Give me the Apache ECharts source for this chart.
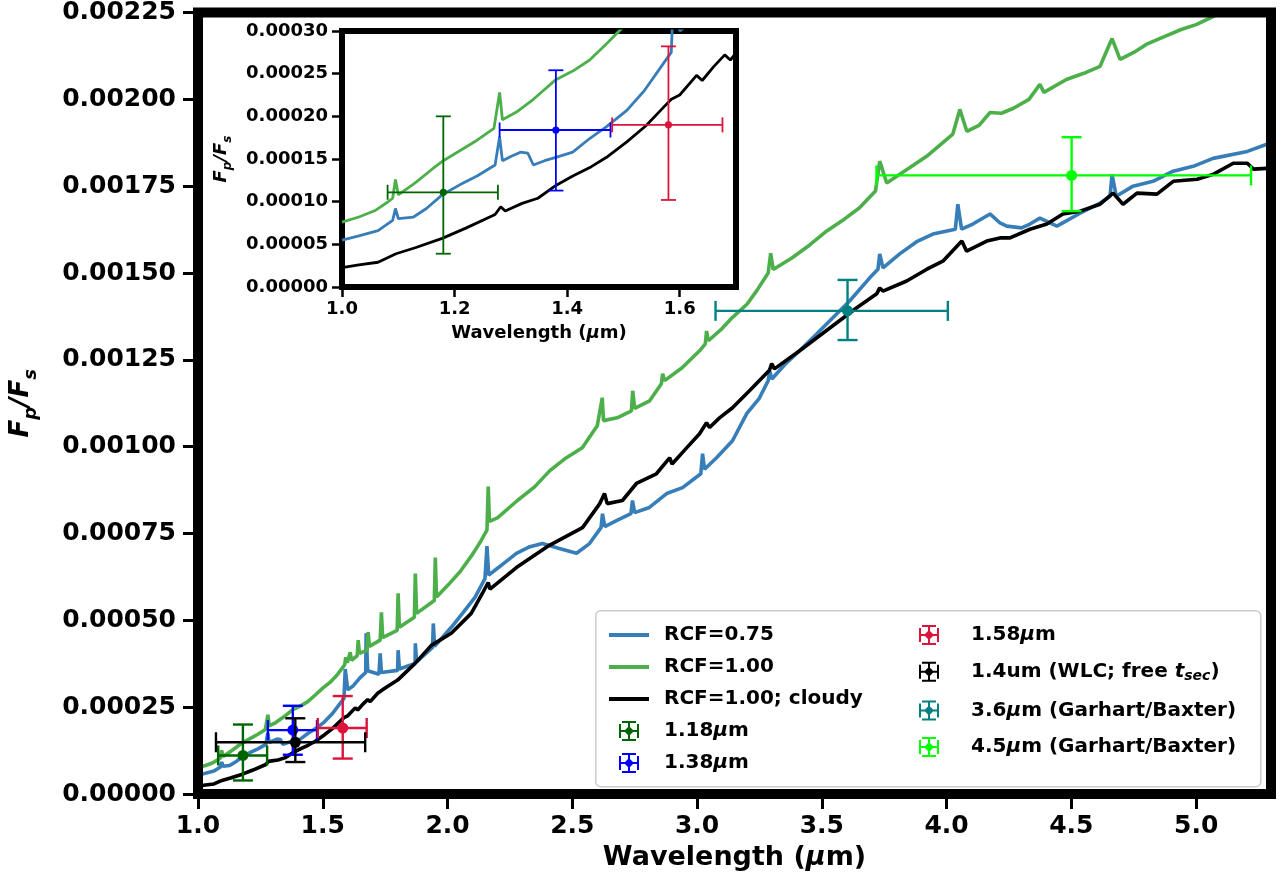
<!DOCTYPE html>
<html><head><meta charset="utf-8">
<script src="https://cdn.jsdelivr.net/npm/echarts@6/dist/echarts.min.js"></script>
<style>html,body{margin:0;padding:0;background:#fff}#c{width:1281px;height:882px}</style>
</head><body><div id="c"></div>
<script>
// ---------------- DATA ----------------
const rcf075X = [1.00,1.03,1.064,1.09,1.095,1.10,1.127,1.15,1.178,1.21,1.24,1.272,1.28,1.285,1.30,1.317,1.33,1.34,1.36,1.38,1.41,1.44,1.47,1.506,1.537,1.569,1.585,1.59,1.60,1.62,1.65,1.672,1.674,1.68,1.725,1.73,1.735,1.80,1.802,1.807,1.87,1.871,1.876,1.94,1.943,1.948,2.015,2.06,2.11,2.15,2.158,2.165,2.204,2.276,2.33,2.38,2.448,2.517,2.569,2.615,2.621,2.63,2.677,2.735,2.741,2.75,2.809,2.878,2.942,3.015,3.022,3.03,3.078,3.142,3.199,3.25,3.285,3.291,3.30,3.35,3.411,3.48,3.544,3.612,3.692,3.725,3.732,3.745,3.812,3.88,3.945,4.035,4.045,4.06,4.105,4.174,4.214,4.241,4.30,4.334,4.374,4.442,4.535,4.615,4.655,4.663,4.68,4.747,4.827,4.908,4.988,5.068,5.205,5.30];
const rcf075Y = [0.000055,0.000060,0.000066,0.000078,0.000092,0.000080,0.000082,0.000092,0.000108,0.000120,0.000130,0.000143,0.000176,0.000148,0.000153,0.000158,0.000157,0.000143,0.000148,0.000152,0.000158,0.000174,0.000188,0.000207,0.000230,0.000260,0.000275,0.000360,0.000300,0.000310,0.000335,0.000350,0.000463,0.000355,0.000345,0.000405,0.000350,0.000356,0.000414,0.000360,0.000376,0.000434,0.000380,0.000422,0.000491,0.000425,0.000480,0.000520,0.000566,0.000620,0.000714,0.000630,0.000652,0.000693,0.000712,0.000721,0.000707,0.000693,0.000721,0.000767,0.000807,0.000770,0.000787,0.000807,0.000845,0.000810,0.000825,0.000865,0.000882,0.000922,0.000980,0.000935,0.000968,0.001017,0.001095,0.001140,0.001190,0.001218,0.001195,0.001235,0.001276,0.001325,0.001371,0.001420,0.001486,0.001511,0.001555,0.001515,0.001555,0.001590,0.001612,0.001626,0.001698,0.001626,0.001641,0.001670,0.001644,0.001635,0.001630,0.001641,0.001658,0.001635,0.001672,0.001701,0.001721,0.001784,0.001721,0.001750,0.001764,0.001793,0.001807,0.001830,0.001850,0.001875];

const rcf100X = [1.00,1.03,1.06,1.08,1.09,1.095,1.10,1.13,1.16,1.18,1.21,1.24,1.27,1.28,1.285,1.31,1.34,1.38,1.41,1.44,1.47,1.50,1.53,1.56,1.588,1.592,1.598,1.61,1.615,1.638,1.642,1.647,1.678,1.682,1.687,1.73,1.735,1.74,1.798,1.802,1.807,1.867,1.871,1.876,1.947,1.951,1.956,2.00,2.05,2.10,2.135,2.158,2.163,2.168,2.20,2.28,2.35,2.41,2.47,2.54,2.60,2.62,2.625,2.68,2.737,2.742,2.75,2.81,2.857,2.862,2.87,2.94,3.01,3.033,3.038,3.045,3.10,3.14,3.20,3.24,3.285,3.295,3.305,3.38,3.45,3.52,3.59,3.65,3.715,3.732,3.76,3.85,3.92,4.025,4.053,4.081,4.13,4.174,4.22,4.27,4.33,4.374,4.39,4.48,4.55,4.615,4.663,4.695,4.75,4.80,4.87,4.94,5.00,5.07,5.15,5.30];
const rcf100Y = [0.000076,0.000082,0.000090,0.000099,0.000104,0.000126,0.000108,0.000122,0.000138,0.000148,0.000160,0.000172,0.000186,0.000228,0.000196,0.000205,0.000220,0.000243,0.000253,0.000266,0.000285,0.000305,0.000322,0.000345,0.000372,0.000394,0.000378,0.000408,0.000385,0.000398,0.000443,0.000405,0.000414,0.000466,0.000425,0.000443,0.000523,0.000450,0.000471,0.000578,0.000480,0.000509,0.000635,0.000520,0.000557,0.000681,0.000567,0.000600,0.000640,0.000690,0.000730,0.000760,0.000885,0.000785,0.000795,0.000845,0.000885,0.000931,0.000965,0.000997,0.001060,0.001141,0.001075,0.001083,0.001103,0.001161,0.001110,0.001132,0.001181,0.001210,0.001190,0.001227,0.001276,0.001296,0.001333,0.001305,0.001340,0.001371,0.001410,0.001450,0.001500,0.001557,0.001510,0.001543,0.001580,0.001621,0.001655,0.001687,0.001736,0.001822,0.001759,0.001802,0.001836,0.001900,0.001971,0.001908,0.001925,0.001962,0.001960,0.001975,0.002000,0.002043,0.002020,0.002057,0.002075,0.002095,0.002175,0.002115,0.002135,0.002158,0.002180,0.002201,0.002215,0.002239,0.002262,0.002310];

const cloudyX = [1.00,1.03,1.064,1.096,1.13,1.178,1.22,1.272,1.282,1.29,1.32,1.348,1.38,1.41,1.443,1.47,1.506,1.54,1.569,1.585,1.60,1.63,1.64,1.66,1.68,1.69,1.72,1.75,1.80,1.87,1.935,2.015,2.095,2.14,2.163,2.17,2.276,2.408,2.541,2.61,2.629,2.64,2.701,2.757,2.837,2.89,2.90,2.95,3.01,3.038,3.05,3.09,3.142,3.21,3.29,3.299,3.31,3.411,3.544,3.64,3.72,3.732,3.745,3.84,3.921,3.985,4.061,4.08,4.161,4.214,4.254,4.334,4.402,4.466,4.535,4.615,4.667,4.707,4.763,4.843,4.908,5.004,5.068,5.149,5.205,5.23,5.30];
const cloudyY = [0.0000227,0.000026,0.000029,0.000039,0.000046,0.000057,0.000069,0.000085,0.000094,0.000089,0.000098,0.000104,0.000119,0.000130,0.000141,0.000152,0.000170,0.000189,0.000209,0.000220,0.000225,0.000248,0.000242,0.000258,0.000272,0.000266,0.000290,0.000305,0.000328,0.000376,0.000428,0.000463,0.000520,0.000578,0.000609,0.000590,0.000652,0.000716,0.000767,0.000836,0.000865,0.000836,0.000845,0.000894,0.000922,0.000968,0.000950,0.000990,0.001037,0.001069,0.001055,0.001083,0.001112,0.001161,0.001220,0.001239,0.001224,0.001276,0.001348,0.001400,0.001440,0.001457,0.001448,0.001477,0.001511,0.001534,0.001592,0.001563,0.001592,0.001601,0.001601,0.001626,0.001641,0.001670,0.001678,0.001698,0.001730,0.001698,0.001730,0.001727,0.001764,0.001770,0.001784,0.001816,0.001816,0.001799,0.001802];

const curveNames = ['RCF=0.75','RCF=1.00','RCF=1.00; cloudy'];
const pointNames = ['1.18μm','1.38μm','1.58μm','1.4um (WLC; free tsec)','3.6μm (Garhart/Baxter)','4.5μm (Garhart/Baxter)'];
const pointX   = [1.18, 1.38, 1.58, 1.39, 3.603, 4.501];
const pointY   = [0.000111, 0.000184, 0.000190, 0.000149, 0.001391, 0.001781];
const pointXLo = [1.081, 1.28, 1.48, 1.072, 3.074, 3.719];
const pointXHi = [1.277, 1.477, 1.676, 1.67, 4.005, 5.22];
const pointYLo = [0.000039, 0.000113, 0.000102, 0.000092, 0.001307, 0.001678];
const pointYHi = [0.000200, 0.000254, 0.000282, 0.000218, 0.001480, 0.001891];
const pointInInset = [true, true, true, false, false, false];

const mainXTicks = [1.0,1.5,2.0,2.5,3.0,3.5,4.0,4.5,5.0];
const mainYTicks = [0,0.00025,0.0005,0.00075,0.001,0.00125,0.0015,0.00175,0.002,0.00225];
const insetXTicks = [1.0,1.2,1.4,1.6];
const insetYTicks = [0,0.00005,0.0001,0.00015,0.0002,0.00025,0.0003];

// ---------------- STYLES ----------------
const curveColors = ['#377eb8','#4daf4a','#000000'];
const pointColors = ['#006400','#0000ff','#dc143c','#000000','#008080','#00ff00'];
const FONT = 'DejaVu Sans';

function zip(xs, ys){ return xs.map((x,i)=>[x, ys[i]]); }
const curveData = [zip(rcf075X, rcf075Y), zip(rcf100X, rcf100Y), zip(cloudyX, cloudyY)];

function errRender(cap, lw, r){
  return function(params, api){
    const x=api.value(0), y=api.value(1), xl=api.value(2), xh=api.value(3), yl=api.value(4), yh=api.value(5);
    const c=api.coord([x,y]), pl=api.coord([xl,y]), ph=api.coord([xh,y]), pb=api.coord([x,yl]), pt=api.coord([x,yh]);
    const color=api.visual('color');
    const st={stroke:color, lineWidth:lw};
    return {type:'group', children:[
      {type:'line', shape:{x1:pl[0],y1:c[1],x2:ph[0],y2:c[1]}, style:st},
      {type:'line', shape:{x1:c[0],y1:pb[1],x2:c[0],y2:pt[1]}, style:st},
      {type:'line', shape:{x1:pl[0],y1:c[1]-cap,x2:pl[0],y2:c[1]+cap}, style:st},
      {type:'line', shape:{x1:ph[0],y1:c[1]-cap,x2:ph[0],y2:c[1]+cap}, style:st},
      {type:'line', shape:{x1:c[0]-cap,y1:pb[1],x2:c[0]+cap,y2:pb[1]}, style:st},
      {type:'line', shape:{x1:c[0]-cap,y1:pt[1],x2:c[0]+cap,y2:pt[1]}, style:st},
      {type:'circle', shape:{cx:c[0],cy:c[1],r:r}, style:{fill:color}}
    ]};
  };
}

const errIcon = 'path://M3,0H17V2H3Z M3,18H17V20H3Z M0,3H2V17H0Z M18,3H20V17H18Z M9,1H11V19H9Z M1,9H19V11H1Z M10,5L15,10L10,15L5,10Z';
const lineIcon = 'path://M0,0H40V4H0Z';

const legendText = {
  'RCF=0.75':'{n|RCF=0.75}',
  'RCF=1.00':'{n|RCF=1.00}',
  'RCF=1.00; cloudy':'{n|RCF=1.00; cloudy}',
  '1.18μm':'{n|1.18}{it|μ}{n|m}',
  '1.38μm':'{n|1.38}{it|μ}{n|m}',
  '1.58μm':'{n|1.58}{it|μ}{n|m}',
  '1.4um (WLC; free tsec)':'{n|1.4um (WLC; free }{it|t}{sub|sec}{n|)}',
  '3.6μm (Garhart/Baxter)':'{n|3.6}{it|μ}{n|m (Garhart/Baxter)}',
  '4.5μm (Garhart/Baxter)':'{n|4.5}{it|μ}{n|m (Garhart/Baxter)}'
};
const legRich = {
  n:{fontFamily:FONT,fontWeight:'bold',fontSize:20,color:'#000',lineHeight:20,verticalAlign:'top'},
  it:{fontFamily:FONT,fontWeight:'bold',fontStyle:'italic',fontSize:20,color:'#000',lineHeight:20,verticalAlign:'top'},
  sub:{fontFamily:FONT,fontWeight:'bold',fontStyle:'italic',fontSize:14,color:'#000',lineHeight:12,padding:[8,0,0,0],verticalAlign:'top'}
};

const series = [];
curveNames.forEach((nm,i)=>{
  series.push({name:nm, type:'line', xAxisIndex:0, yAxisIndex:0, data:curveData[i], symbol:'none',
    lineStyle:{color:curveColors[i], width:3.6}, itemStyle:{color:curveColors[i]}, z:2, clip:true});
});
pointNames.forEach((nm,i)=>{
  series.push({name:nm, type:'custom', xAxisIndex:0, yAxisIndex:0, z:3,
    itemStyle:{color:pointColors[i]},
    renderItem:errRender(10, 2.4, 5.5),
    encode:{x:[0,2,3], y:[1,4,5]},
    data:[[pointX[i],pointY[i],pointXLo[i],pointXHi[i],pointYLo[i],pointYHi[i]]]});
});
curveNames.forEach((nm,i)=>{
  series.push({name:nm, type:'line', xAxisIndex:1, yAxisIndex:1, data:curveData[i], symbol:'none',
    lineStyle:{color:curveColors[i], width:2.8}, itemStyle:{color:curveColors[i]}, z:11, clip:true});
});
pointNames.forEach((nm,i)=>{
  if(!pointInInset[i]) return;
  series.push({name:nm, type:'custom', xAxisIndex:1, yAxisIndex:1, z:12,
    itemStyle:{color:pointColors[i]},
    renderItem:errRender(7.5, 1.8, 3.6),
    encode:{x:[0,2,3], y:[1,4,5]},
    data:[[pointX[i],pointY[i],pointXLo[i],pointXHi[i],pointYLo[i],pointYHi[i]]]});
});

const tickFont = {fontFamily:FONT, fontWeight:'bold', color:'#000'};

const option = {
  animation:false,
  backgroundColor:'#fff',
  grid:[
    {left:198, top:10, right:10, bottom:88, show:true, borderWidth:10, borderColor:'#000', backgroundColor:'transparent', z:5},
    {left:342, top:31, width:394, height:256, show:true, borderWidth:6, borderColor:'#000', backgroundColor:'#fff', z:10}
  ],
  xAxis:[
    {type:'value', gridIndex:0, min:1.0, max:5.3,
     axisLine:{show:false}, splitLine:{show:false},
     axisTick:{show:true, length:15, lineStyle:{color:'#000', width:3}, customValues:mainXTicks},
     axisLabel:Object.assign({fontSize:25, margin:20, customValues:mainXTicks, formatter:v=>v.toFixed(1)}, tickFont),
     name:'Wavelength ({m|μ}m)', nameLocation:'middle', nameGap:50,
     nameTextStyle:{fontFamily:FONT, fontWeight:'bold', fontSize:27, color:'#000',
       rich:{m:{fontFamily:FONT, fontWeight:'bold', fontStyle:'italic', fontSize:27, color:'#000'}}}},
    {type:'value', gridIndex:1, min:1.0, max:1.7, z:12,
     axisLine:{show:false}, splitLine:{show:false},
     axisTick:{show:true, length:10, lineStyle:{color:'#000', width:2.5}, customValues:insetXTicks},
     axisLabel:Object.assign({fontSize:18, margin:13, customValues:insetXTicks, formatter:v=>v.toFixed(1)}, tickFont),
     name:'Wavelength ({m|μ}m)', nameLocation:'middle', nameGap:37,
     nameTextStyle:{fontFamily:FONT, fontWeight:'bold', fontSize:18, color:'#000',
       rich:{m:{fontFamily:FONT, fontWeight:'bold', fontStyle:'italic', fontSize:18, color:'#000'}}}}
  ],
  yAxis:[
    {type:'value', gridIndex:0, min:0, max:0.00225,
     axisLine:{show:false}, splitLine:{show:false},
     axisTick:{show:true, length:15, lineStyle:{color:'#000', width:3}, customValues:mainYTicks},
     axisLabel:Object.assign({fontSize:25, margin:22, customValues:mainYTicks, formatter:v=>v.toFixed(5)}, tickFont),
     name:'{i|F}{s|p}{i|/F}{s|s}', nameLocation:'middle', nameGap:158, nameRotate:90,
     nameTextStyle:{fontFamily:FONT, fontWeight:'bold', fontSize:26, color:'#000',
       rich:{
         i:{fontFamily:FONT, fontWeight:'bold', fontStyle:'italic', fontSize:26, color:'#000', lineHeight:32, verticalAlign:'top'},
         s:{fontFamily:FONT, fontWeight:'bold', fontStyle:'italic', fontSize:18, color:'#000', lineHeight:18, padding:[14,0,0,0], verticalAlign:'top'}
       }}},
    {type:'value', gridIndex:1, min:0, max:0.0003, z:12,
     axisLine:{show:false}, splitLine:{show:false},
     axisTick:{show:true, length:10, lineStyle:{color:'#000', width:2.5}, customValues:insetYTicks},
     axisLabel:Object.assign({fontSize:18, margin:14, customValues:insetYTicks, formatter:v=>v.toFixed(5)}, tickFont),
     name:'{i|F}{s|p}{i|/F}{s|s}', nameLocation:'middle', nameGap:108, nameRotate:90,
     nameTextStyle:{fontFamily:FONT, fontWeight:'bold', fontSize:18, color:'#000',
       rich:{
         i:{fontFamily:FONT, fontWeight:'bold', fontStyle:'italic', fontSize:18, color:'#000', lineHeight:22, verticalAlign:'top'},
         s:{fontFamily:FONT, fontWeight:'bold', fontStyle:'italic', fontSize:12, color:'#000', lineHeight:12, padding:[10,0,0,0], verticalAlign:'top'}
       }}}
  ],
  graphic:[{type:'rect', left:595, top:610, z:6, shape:{width:665, height:176, r:5},
    style:{fill:'rgba(255,255,255,0.85)', stroke:'#cccccc', lineWidth:1.5}}],
  legend:[
    {left:604, top:620, orient:'vertical', itemWidth:40, itemHeight:20, itemGap:12, z:7, selectedMode:false,
     data:[
       {name:curveNames[0], icon:lineIcon},{name:curveNames[1], icon:lineIcon},{name:curveNames[2], icon:lineIcon},
       {name:pointNames[0], icon:errIcon},{name:pointNames[1], icon:errIcon}
     ],
     formatter:n=>legendText[n],
     textStyle:{padding:[0,0,0,10], rich:legRich}},
    {left:914, top:620, orient:'vertical', itemWidth:40, itemHeight:20, itemGap:16.7, z:7, selectedMode:false,
     data:[
       {name:pointNames[2], icon:errIcon},{name:pointNames[3], icon:errIcon},
       {name:pointNames[4], icon:errIcon},{name:pointNames[5], icon:errIcon}
     ],
     formatter:n=>legendText[n],
     textStyle:{padding:[0,0,0,17], rich:legRich}}
  ],
  series:series
};
const chart = echarts.init(document.getElementById('c'), null, {renderer:'canvas'});
chart.setOption(option);
</script></body></html>
